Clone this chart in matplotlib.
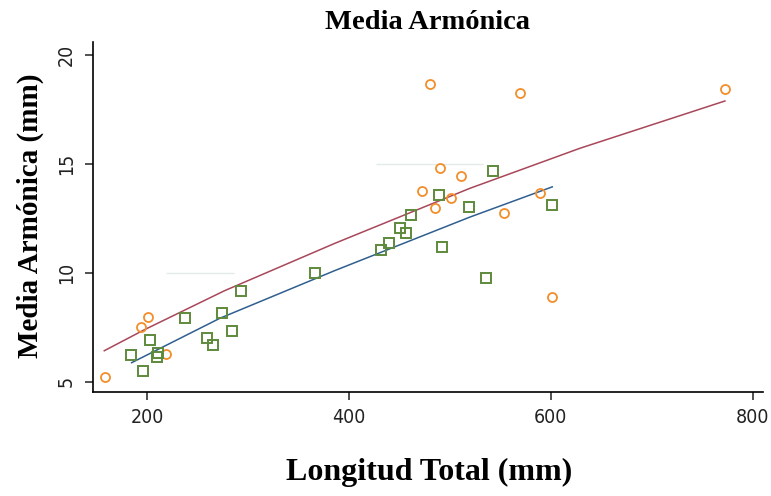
# -*- coding: utf-8 -*-
"""
Media armonica vs longitud total
"""

import numpy as np
import matplotlib.pyplot as plt

#------------------------------------------------------------------------------
# data
#
# orange circles
lt_o = [157.8, 193.5, 200.5, 218.5, 472.0, 480.5, 485.0, 490.5, 501.0,
        511.0, 554.0, 569.5, 589.0, 601.0, 772.5]
ma_o = [5.20, 7.49, 7.97, 6.25, 13.77, 18.66, 12.99, 14.81, 13.45,
        14.46, 12.75, 18.23, 13.65, 8.88, 18.44]

# green squares
lt_s = [184.0, 195.5, 203.0, 209.5, 211.0, 237.5, 259.3, 265.5, 274.0,
        284.3, 293.3, 366.0, 432.0, 439.5, 450.5, 456.0, 461.5, 489.0,
        491.8, 518.5, 535.5, 543.0, 601.0]
ma_s = [6.21, 5.47, 6.93, 6.14, 6.33, 7.90, 7.02, 6.67, 8.17,
        7.33, 9.15, 9.98, 11.02, 11.37, 12.06, 11.80, 12.64, 13.58,
        11.17, 13.03, 9.74, 14.65, 13.10]

# fitted curves
fit_o_x = [157.4, 197.0, 276.4, 386.0, 519.6, 628.8, 772.5]
fit_o_y = [6.42, 7.38, 9.17, 11.35, 13.87, 15.71, 17.88]
fit_s_x = [184.5, 272.0, 386.0, 519.6, 601.4]
fit_s_y = [5.87, 7.91, 10.10, 12.55, 13.94]

xticks = [200, 400, 600, 800]
yticks = [5, 10, 15, 20]

# plotting settings
c_orange = '#f28e2b'
c_green  = '#5e8a3c'
c_red    = '#a8475a'
c_blue   = '#2f5f8f'
serif    = ['Liberation Serif', 'DejaVu Serif']
narrow   = ['DejaVu Sans']

fig = plt.figure(figsize=(7.71, 4.96), dpi=100)
ax = fig.add_axes([0.1202, 0.2103, 0.8690, 0.7056])

# faint grid remnants
ax.hlines(10, 219, 286, color='#e2eaea', linewidth=1.0, zorder=0)
ax.hlines(15, 427, 533, color='#e2eaea', linewidth=1.0, zorder=0)

# fits
ax.plot(fit_o_x, fit_o_y, color=c_red, linewidth=1.1, zorder=2)
ax.plot(fit_s_x, fit_s_y, color=c_blue, linewidth=1.1, zorder=2)

# points
ax.plot(lt_o, ma_o, linestyle='', marker='o', markersize=6.5,
        markerfacecolor='none', markeredgecolor=c_orange,
        markeredgewidth=1.3, zorder=3)
ax.plot(lt_s, ma_s, linestyle='', marker='s', markersize=6.8,
        markerfacecolor='none', markeredgecolor=c_green,
        markeredgewidth=1.4, zorder=3)

ax.set_xlim(145.9, 809.9)
ax.set_ylim(4.54, 20.6)
ax.set_xticks(xticks)
ax.set_yticks(yticks)
ax.spines['top'].set_visible(False)
ax.spines['right'].set_visible(False)
ax.spines['left'].set_linewidth(1.2)
ax.spines['bottom'].set_linewidth(1.2)
ax.tick_params(axis='both', direction='out', length=6, width=1.1,
               colors='#222222', pad=6)
for lab in ax.get_xticklabels() + ax.get_yticklabels():
    lab.set_family(narrow)
    lab.set_stretch('condensed')
    lab.set_fontsize(14)
for lab in ax.get_yticklabels():
    lab.set_rotation(90)
    lab.set_va('center')

fig.text(0.554, 0.955, 'Media Armónica', family=serif, fontweight='bold',
         fontsize=20.5, ha='center', va='center')
fig.text(0.556, 0.048, 'Longitud Total (mm)', family=serif,
         fontweight='bold', fontsize=23, ha='center', va='center')
fig.text(0.039, 0.565, 'Media Armónica (mm)', family=serif,
         fontweight='bold', fontsize=21, ha='center', va='center',
         rotation=90)

plt.savefig('out.png', dpi=100)
